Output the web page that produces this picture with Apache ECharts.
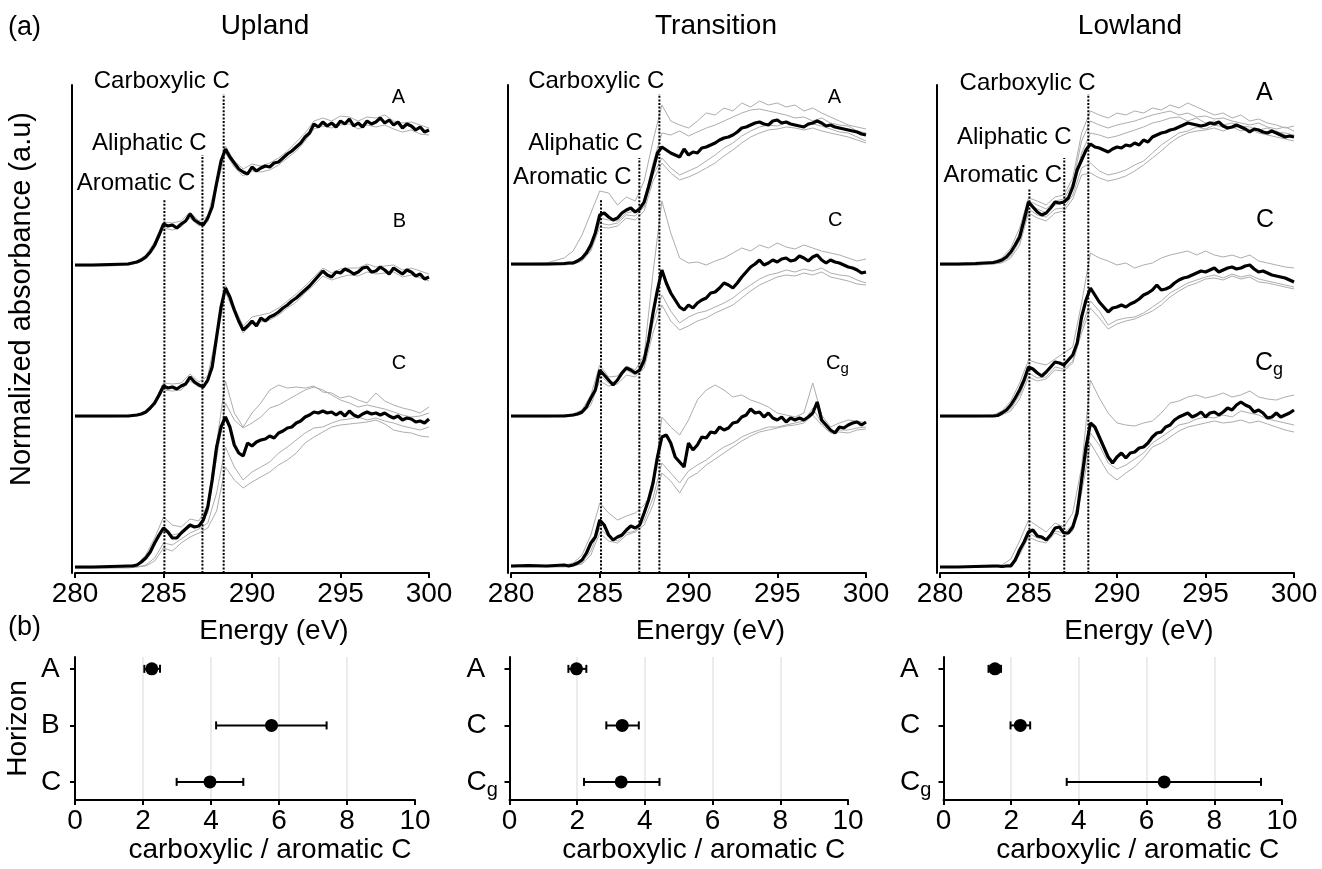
<!DOCTYPE html>
<html><head><meta charset="utf-8">
<script src="https://cdn.jsdelivr.net/npm/echarts@6/dist/echarts.min.js"></script>
<style>html,body{margin:0;padding:0;background:#fff}#chart{width:1322px;height:869px}</style>
</head><body><div id="chart"></div>
<script>
// ---------------- DATA ----------------
const siteNames = ['Upland', 'Transition', 'Lowland'];
const uplandHorizons = ['A', 'B', 'C'];
const transitionHorizons = ['A', 'C', 'Cg'];
const lowlandHorizons = ['A', 'C', 'Cg'];
const peakNames = ['Aromatic C', 'Aliphatic C', 'Carboxylic C'];
const uplandPeakEnergy = [285.05, 287.2, 288.4];
const transitionPeakEnergy = [285.07, 287.23, 288.36];
const lowlandPeakEnergy = [285.05, 287.02, 288.38];
const energyTicks = [280, 285, 290, 295, 300];
const ratioTicks = [0, 2, 4, 6, 8, 10];

const energyMean = [280,281,282,283,283.25,283.5,283.75,284,284.25,284.5,284.75,285,285.25,285.5,285.75,286,286.25,286.5,286.75,287,287.25,287.5,287.75,288,288.25,288.5,288.75,289,289.25,289.5,289.75,290,290.25,290.5,290.75,291,291.25,291.5,291.75,292,292.25,292.5,292.75,293,293.25,293.5,293.75,294,294.25,294.5,294.75,295,295.25,295.5,295.75,296,296.25,296.5,296.75,297,297.25,297.5,297.75,298,298.25,298.5,298.75,299,299.25,299.5,299.75,300];
const energyGray = [280,282,283,283.5,284,284.5,285,285.5,286,286.5,287,287.5,288,288.5,289,289.5,290,290.5,291,291.5,292,292.5,293,293.5,294,294.5,295,295.5,296,296.5,297,297.5,298,298.5,299,299.5,300];

// Upland spectra (offset absorbance, a.u.)
const uplandA_mean = [308,308,308.5,309, 310,311,313,316, 321,328,338,349, 347,348,345,349, 352,359,353,350, 348,355,366,390, 412,424,416,410, 404,401,399,406, 402,405,407,406, 410,411,415,419, 422,426,430,436, 440,449,446,451, 447,450,446,452, 449,454,447,450, 446,452,449,451, 455,450,453,448, 451,445,449,447, 443,446,441,443];
const uplandB_mean = [157,157,157,157, 157.5,158,159,161, 165,170,178,187, 185,186,184,187, 189,196,191,188, 186,193,206,236, 266,285,276,263, 252,243,247,252, 247,255,252,256, 258,261,265,268, 272,275,279,283, 287,292,297,302, 298,296,301,300, 304,302,299,301, 305,306,301,302, 306,303,299,305, 302,299,303,301, 297,299,294,296];
const uplandC_mean = [6,6,6.5,7, 7,8,11,15, 21,30,38,45, 41,35,35,40, 44,48,46,47, 53,66,93,126, 146,156,146,128, 120,117,130,127, 131,133,134,137, 135,140,142,145, 146,150,152,156, 158,161,160,162, 160,161,158,161, 157,162,158,156, 159,161,159,160, 158,160,157,155, 157,153,155,154, 151,152,150,154];
const uplandA_gray1 = [308,309,310,312,318,331,351,350,352,361,352,357,392,427,412,404,409,407,410,415,422,431,440,452,455,452,457,456,452,456,455,458,452,450,451,448,445];
const uplandA_gray2 = [307,307,308,310,314,325,345,343,346,355,347,351,386,420,406,397,402,401,403,408,415,422,432,444,447,445,448,449,444,448,446,448,444,441,443,439,438];
const uplandB_gray1 = [157,157,157,158,162,172,190,189,190,199,191,197,240,288,266,247,256,258,260,265,272,279,287,296,305,300,304,305,305,309,306,307,308,303,305,302,299];
const uplandB_gray2 = [156,156,157,157,160,168,183,182,183,192,186,190,232,281,260,240,249,251,253,258,265,271,280,288,297,293,296,298,297,301,299,300,301,296,298,295,292];
const uplandC_gray1 = [6,6,7,9,18,35,56,48,46,54,52,68,130,192,160,146,160,170,183,188,185,186,185,187,181,180,175,177,173,170,180,172,168,165,163,160,166];
const uplandC_gray2 = [6,6,7,8,14,28,42,38,40,46,48,60,115,170,153,145,150,156,165,168,173,178,183,186,183,178,173,170,166,168,166,164,161,158,156,157,160];
const uplandC_gray3 = [5,5,6,6,8,15,30,28,34,40,44,50,80,126,106,93,101,106,111,120,126,133,140,145,146,150,153,154,156,153,155,152,150,147,145,143,146];
const uplandC_gray4 = [5,5,5,6,7,12,25,22,30,36,40,45,62,106,93,85,91,96,101,108,113,120,130,136,141,146,148,149,150,151,153,149,143,141,140,137,136];

// Transition spectra
const transitionA_mean = [309,309,309,309.5, 310,310,312,315, 320,328,340,358, 360,356,353,355, 360,363,365,361, 364,371,386,403, 420,426,423,420, 418,416,424,418, 421,420,425,426, 428,430,433,435, 436,438,441,445, 446,448,450,451, 449,448,452,453, 450,451,449,448, 447,446,449,450, 452,450,447,448, 446,445,444,443, 442,441,439,438];
const transitionC_mean = [157,157,157,157, 157.5,158,159,161, 166,175,183,203, 198,193,188,193, 200,205,203,200, 203,213,233,260, 283,303,290,280, 273,266,263,268, 265,270,273,275, 280,281,285,290, 288,285,290,296, 301,306,309,313, 308,310,313,311, 314,315,312,313, 317,315,312,316, 318,313,310,313, 311,310,308,306, 305,303,300,301];
const transitionCg_mean = [7,7.5,7,8, 7,8,10,13, 20,30,36,53, 48,38,33,36, 38,43,47,45, 48,60,73,90, 116,136,138,130, 116,111,106,130, 123,128,136,135, 141,140,146,143, 145,150,151,156, 158,164,160,161, 156,160,155,153, 156,151,155,153, 155,153,156,160, 171,153,148,143, 140,146,145,148, 150,151,148,151];
const transitionA_gray1 = [309,310,315,322,338,360,382,380,368,376,372,392,432,468,452,448,445,452,460,458,465,462,470,466,472,468,470,466,468,462,465,460,456,452,448,446,444];
const transitionA_gray2 = [309,309,310,311,316,330,355,353,352,360,362,372,410,440,438,442,437,441,445,448,452,456,460,463,464,462,460,458,455,456,452,455,450,448,447,442,440];
const transitionA_gray3 = [308,308,309,310,313,324,350,348,350,358,357,366,398,415,405,398,402,406,412,418,425,430,437,442,446,448,447,450,448,446,449,447,444,441,440,436,432];
const transitionA_gray4 = [308,308,308,309,312,322,346,345,347,355,353,362,392,410,400,393,396,400,405,410,417,423,430,436,440,443,444,446,445,443,445,442,440,438,436,433,430];
const transitionC_gray1 = [157,157,158,159,163,178,208,196,197,207,203,218,300,372,340,315,310,311,308,312,315,320,325,322,328,325,330,326,324,328,325,322,320,318,315,312,314];
const transitionC_gray2 = [157,157,157,158,160,172,198,190,192,203,198,208,250,278,262,250,256,260,262,266,270,275,282,288,294,298,300,303,301,304,302,305,300,298,297,293,290];
const transitionC_gray3 = [156,156,157,157,159,168,192,187,189,198,196,205,240,268,252,243,247,252,255,260,264,268,275,282,288,292,296,298,297,300,298,301,296,294,292,289,288];
const transitionCg_gray1 = [7,7,8,10,18,38,70,60,53,57,60,68,83,156,146,138,153,173,183,188,183,176,178,173,170,166,160,158,156,160,190,158,146,150,153,152,150];
const transitionCg_gray2 = [7,7,7,8,10,22,45,36,32,40,42,52,75,110,100,90,102,108,113,120,126,130,136,140,143,146,146,148,150,152,165,150,141,143,143,145,146];
const transitionCg_gray3 = [6,6,6,7,9,18,40,32,30,38,41,48,68,100,92,80,95,100,108,114,120,126,132,137,141,143,145,147,148,150,158,148,140,141,140,143,144];

// Lowland spectra
const lowlandA_mean = [309,309,309.5,310.5, 311.5,313,316,321, 328,336,353,371, 366,361,358,360, 365,371,370,371, 375,386,403,413, 423,429,426,425, 423,421,424,426, 425,428,427,430, 428,433,431,436, 438,440,441,443, 444,446,448,450, 449,448,447,448, 450,449,451,447, 445,446,448,446, 444,441,444,443, 441,440,442,440, 438,436,437,436];
const lowlandC_mean = [157,157,157,157, 157.5,160,163,168, 175,183,193,206, 204,200,197,201, 206,211,210,208, 213,218,230,256, 273,285,278,271, 266,261,265,266, 268,266,269,271, 274,278,280,283, 288,283,284,286, 290,293,295,296, 298,300,302,301, 303,305,301,303, 305,306,304,305, 307,308,304,301, 302,300,298,297, 296,295,293,291];
const lowlandCg_mean = [6,6,6.5,7, 7,6.5,7,7, 13,23,31,41, 43,37,36,33, 38,45,46,40, 40,46,60,93, 126,150,146,136, 126,116,110,116, 120,115,120,121, 125,126,130,136, 140,141,146,148, 153,156,158,160, 156,158,161,156, 160,161,158,161, 165,163,168,171, 168,166,161,163, 160,155,156,160, 156,158,160,163];
const lowlandA_gray1 = [309,309,311,315,325,345,375,372,368,376,378,395,440,462,458,455,460,458,462,460,465,463,468,465,470,466,462,458,460,455,458,452,454,450,448,445,447];
const lowlandA_gray2 = [309,309,310,313,322,340,372,368,364,372,374,390,432,452,448,445,448,450,452,455,458,460,462,458,460,456,457,454,455,452,450,448,450,446,444,446,442];
const lowlandA_gray3 = [308,308,310,312,320,336,368,364,360,368,370,384,420,440,438,435,437,440,443,446,450,452,455,456,452,455,450,452,448,450,447,446,443,445,441,440,438];
const lowlandA_gray4 = [308,308,309,311,317,332,364,358,356,364,365,378,405,410,402,398,400,403,408,412,420,428,434,440,442,446,444,448,446,445,447,443,444,440,442,438,436];
const lowlandA_gray5 = [308,308,309,310,315,328,360,355,352,360,362,374,398,400,395,392,394,397,402,408,415,422,430,436,440,442,443,445,442,446,442,444,440,438,436,434,432];
const lowlandC_gray1 = [157,157,158,162,172,190,213,210,208,214,220,226,270,320,315,312,308,310,305,308,310,315,318,320,322,318,322,318,316,318,315,318,312,310,308,306,305];
const lowlandC_gray2 = [157,157,157,159,164,178,200,195,196,206,204,212,245,272,262,248,253,255,256,260,266,272,280,285,290,293,296,298,295,299,296,298,294,292,290,288,286];
const lowlandC_gray3 = [156,156,157,158,162,174,196,192,194,203,202,210,240,265,255,244,249,252,254,258,262,268,276,282,287,290,294,295,293,297,294,296,291,290,288,286,284];
const lowlandCg_gray1 = [6,6,7,8,14,32,53,47,41,50,46,60,106,193,175,160,150,148,147,150,152,160,170,172,176,178,175,177,180,176,178,182,176,174,173,176,178];
const lowlandCg_gray2 = [6,6,6,6,7,18,36,32,30,40,36,42,80,130,115,100,93,100,106,115,126,130,136,142,146,148,150,152,150,151,153,150,152,149,146,143,141];
const lowlandCg_gray3 = [6,6,6,7,9,22,40,35,33,42,40,48,88,140,128,110,104,108,114,120,130,136,142,148,150,154,156,155,158,156,162,160,158,154,152,150,148];

// carboxylic / aromatic C ratio (mean, error low, error high) per horizon
const uplandRatio = [2.26, 5.78, 3.97];
const uplandRatioLow = [2.04, 4.15, 2.99];
const uplandRatioHigh = [2.5, 7.4, 4.95];
const transitionRatio = [1.98, 3.33, 3.3];
const transitionRatioLow = [1.74, 2.86, 2.2];
const transitionRatioHigh = [2.27, 3.82, 4.43];
const lowlandRatio = [1.52, 2.27, 6.52];
const lowlandRatioLow = [1.33, 1.98, 3.64];
const lowlandRatioHigh = [1.7, 2.56, 9.38];

// ---------------- LAYOUT ----------------
const FONT = 'Liberation Sans, Arial, Helvetica, sans-serif';
const GRAY = '#adadad';
const specGrids = [
  {left: 75, top: 85, width: 354, height: 488},
  {left: 511, top: 85, width: 355, height: 488},
  {left: 940, top: 85, width: 354, height: 488}
];
const ratioGrids = [
  {left: 75, top: 657, width: 340, height: 143},
  {left: 509.5, top: 657, width: 338.5, height: 143},
  {left: 943.5, top: 657, width: 338.5, height: 143}
];
const horizonLabelMargin = [31, 40, 40.5];
const titleX = [265, 716, 1130];
const specLayout = [
  {labelFont: 20, subFont: 15, labelPos: [[297.9, 476], [297.95, 352], [297.9, 210]], peakTop: [373, 418, 479], peakLabelPos: [[283.45, 390], [284.2, 430], [284.9, 492]]},
  {labelFont: 20, subFont: 15, labelPos: [[297.85, 476], [297.86, 353], [297.75, 210]], peakTop: [373, 415, 479], peakLabelPos: [[283.45, 396], [284.2, 430], [284.8, 492]]},
  {labelFont: 25, subFont: 18, labelPos: [[297.85, 480], [297.85, 353], [297.8, 210]], peakTop: [385, 415, 479], peakLabelPos: [[283.55, 398], [284.2, 436], [284.95, 490]]}
];

const spectraBySite = [
  [{mean: uplandA_mean, grays: [uplandA_gray1, uplandA_gray2]},
   {mean: uplandB_mean, grays: [uplandB_gray1, uplandB_gray2]},
   {mean: uplandC_mean, grays: [uplandC_gray1, uplandC_gray2, uplandC_gray3, uplandC_gray4]}],
  [{mean: transitionA_mean, grays: [transitionA_gray1, transitionA_gray2, transitionA_gray3, transitionA_gray4]},
   {mean: transitionC_mean, grays: [transitionC_gray1, transitionC_gray2, transitionC_gray3]},
   {mean: transitionCg_mean, grays: [transitionCg_gray1, transitionCg_gray2, transitionCg_gray3]}],
  [{mean: lowlandA_mean, grays: [lowlandA_gray1, lowlandA_gray2, lowlandA_gray3, lowlandA_gray4, lowlandA_gray5]},
   {mean: lowlandC_mean, grays: [lowlandC_gray1, lowlandC_gray2, lowlandC_gray3]},
   {mean: lowlandCg_mean, grays: [lowlandCg_gray1, lowlandCg_gray2, lowlandCg_gray3]}]
];
const horizonsBySite = [uplandHorizons, transitionHorizons, lowlandHorizons];
const peakEnergyBySite = [uplandPeakEnergy, transitionPeakEnergy, lowlandPeakEnergy];
const ratioBySite = [
  [uplandRatio, uplandRatioLow, uplandRatioHigh],
  [transitionRatio, transitionRatioLow, transitionRatioHigh],
  [lowlandRatio, lowlandRatioLow, lowlandRatioHigh]
];
const horizonPos = [3, 2, 1];

const zip = (xs, ys) => xs.map((x, i) => [x, ys[i]]);
const fmtH = h => h === 'Cg' ? '{b|C}{s|g}' : '{b|' + h + '}';

const series = [];
spectraBySite.forEach((spectra, p) => {
  const L = specLayout[p];
  spectra.forEach(s => s.grays.forEach(g => series.push({
    type: 'line', xAxisIndex: p, yAxisIndex: p, data: zip(energyGray, g),
    symbol: 'none', showSymbol: false, silent: true, z: 2,
    lineStyle: {color: GRAY, width: 1}
  })));
  peakEnergyBySite[p].forEach((e, k) => series.push({
    type: 'line', xAxisIndex: p, yAxisIndex: p, data: [[e, 0], [e, L.peakTop[k]]],
    symbol: 'none', showSymbol: false, silent: true, z: 3,
    lineStyle: {color: '#000', width: 2, type: [2, 1.6]}
  }));
  spectra.forEach(s => series.push({
    type: 'line', xAxisIndex: p, yAxisIndex: p, data: zip(energyMean, s.mean),
    symbol: 'none', showSymbol: false, silent: true, z: 4,
    lineStyle: {color: '#000', width: 3.2}
  }));
  series.push({
    type: 'scatter', xAxisIndex: p, yAxisIndex: p, symbolSize: 1, silent: true, z: 5, clip: false,
    itemStyle: {color: 'rgba(0,0,0,0)', opacity: 1},
    data: peakNames.map((n, k) => ({value: L.peakLabelPos[k], name: n})),
    label: {show: true, position: 'inside', formatter: q => q.name, fontSize: 24, fontFamily: FONT, color: '#000', opacity: 1}
  });
  series.push({
    type: 'scatter', xAxisIndex: p, yAxisIndex: p, symbolSize: 1, silent: true, z: 5, clip: false,
    itemStyle: {color: 'rgba(0,0,0,0)', opacity: 1},
    data: horizonsBySite[p].map((h, k) => ({value: L.labelPos[k], name: h})),
    label: {show: true, position: 'inside', align: 'left', verticalAlign: 'middle', opacity: 1,
      formatter: q => fmtH(q.name),
      rich: {
        b: {fontSize: L.labelFont, fontFamily: FONT, color: '#000'},
        s: {fontSize: L.subFont, fontFamily: FONT, color: '#000', padding: [Math.round(L.labelFont * 0.6), 0, 0, 0]}
      }}
  });
});

ratioBySite.forEach(([mid, lo, hi], p) => {
  series.push({
    type: 'custom', xAxisIndex: 3 + p, yAxisIndex: 3 + p, silent: true, z: 3,
    data: mid.map((m, k) => [horizonPos[k], lo[k], hi[k]]),
    encode: {x: [1, 2], y: 0},
    renderItem: (params, api) => {
      const y = api.value(0);
      const a = api.coord([api.value(1), y]);
      const b = api.coord([api.value(2), y]);
      const st = {stroke: '#000', lineWidth: 2};
      return {type: 'group', children: [
        {type: 'line', shape: {x1: a[0], y1: a[1], x2: b[0], y2: b[1]}, style: st},
        {type: 'line', shape: {x1: a[0], y1: a[1] - 4, x2: a[0], y2: a[1] + 4}, style: st},
        {type: 'line', shape: {x1: b[0], y1: b[1] - 4, x2: b[0], y2: b[1] + 4}, style: st}
      ]};
    }
  });
  series.push({
    type: 'scatter', xAxisIndex: 3 + p, yAxisIndex: 3 + p, silent: true, z: 4,
    symbolSize: 13, itemStyle: {color: '#000', opacity: 1},
    data: mid.map((m, k) => [m, horizonPos[k]])
  });
});

const axisText = {fontSize: 28, fontFamily: FONT, color: '#000'};
const xAxes = [];
const yAxes = [];
specGrids.forEach((g, p) => {
  xAxes.push({
    gridIndex: p, type: 'value', min: energyTicks[0], max: energyTicks[energyTicks.length - 1], interval: 5,
    axisLine: {show: true, lineStyle: {color: '#000', width: 2}},
    axisTick: {show: true, length: 5, lineStyle: {color: '#000', width: 2}},
    axisLabel: Object.assign({margin: 7, lineHeight: 28}, axisText),
    splitLine: {show: false},
    name: 'Energy (eV)', nameLocation: 'middle', nameGap: 44,
    nameTextStyle: Object.assign({padding: [0, 0, 0, 44], lineHeight: 28}, axisText)
  });
  yAxes.push({
    gridIndex: p, type: 'value', min: 0, max: 488, offset: 3,
    axisLine: {show: true, lineStyle: {color: '#000', width: 2}},
    axisTick: {show: false}, axisLabel: {show: false}, splitLine: {show: false},
    name: p === 0 ? 'Normalized absorbance (a.u)' : '', nameLocation: 'middle', nameGap: 36,
    nameTextStyle: Object.assign({padding: [0, 0, 0, 60], lineHeight: 28}, axisText, {fontSize: 29})
  });
});
ratioGrids.forEach((g, p) => {
  xAxes.push({
    gridIndex: 3 + p, type: 'value', min: ratioTicks[0], max: ratioTicks[ratioTicks.length - 1], interval: 2,
    axisLine: {show: true, lineStyle: {color: '#000', width: 2}},
    axisTick: {show: true, length: 5, lineStyle: {color: '#000', width: 2}},
    axisLabel: Object.assign({margin: 7, lineHeight: 28}, axisText),
    splitLine: {show: true, showMinLine: false, showMaxLine: false, lineStyle: {color: '#e6e6e6', width: 1.5}},
    name: 'carboxylic / aromatic C', nameLocation: 'middle', nameGap: 34,
    nameTextStyle: Object.assign({padding: [0, 0, 0, 50], lineHeight: 28}, axisText)
  });
  const hs = horizonsBySite[p];
  yAxes.push({
    gridIndex: 3 + p, type: 'value', min: 0.68, max: 3.21, offset: 3,
    axisLine: {show: true, lineStyle: {color: '#000', width: 2}},
    axisTick: {show: true, length: 5, customValues: horizonPos, lineStyle: {color: '#000', width: 2}},
    axisLabel: {show: true, customValues: horizonPos, align: 'left', margin: horizonLabelMargin[p],
      formatter: v => fmtH(hs[horizonPos.indexOf(Math.round(v))]),
      rich: {
        b: {fontSize: 28, fontFamily: FONT, color: '#000'},
        s: {fontSize: 20, fontFamily: FONT, color: '#000', padding: [18, 0, 0, 0]}
      }},
    splitLine: {show: false},
    name: p === 0 ? 'Horizon' : '', nameLocation: 'middle', nameGap: 40,
    nameTextStyle: Object.assign({lineHeight: 28}, axisText)
  });
});

const graphic = siteNames.map((n, p) => ({
  type: 'text', x: titleX[p], y: 26,
  style: {text: n, fontSize: 28, fontFamily: FONT, fill: '#000', align: 'center', verticalAlign: 'middle'}
}));
graphic.push({type: 'text', x: 8, y: 28, style: {text: '(a)', fontSize: 27, fontFamily: FONT, fill: '#000', align: 'left', verticalAlign: 'middle'}});
graphic.push({type: 'text', x: 8, y: 628, style: {text: '(b)', fontSize: 27, fontFamily: FONT, fill: '#000', align: 'left', verticalAlign: 'middle'}});

const chart = echarts.init(document.getElementById('chart'), null, {renderer: 'canvas'});
chart.setOption({
  animation: false,
  backgroundColor: '#fff',
  textStyle: {fontFamily: FONT},
  grid: specGrids.concat(ratioGrids),
  xAxis: xAxes,
  yAxis: yAxes,
  graphic: graphic,
  series: series
});
</script>
</body></html>
